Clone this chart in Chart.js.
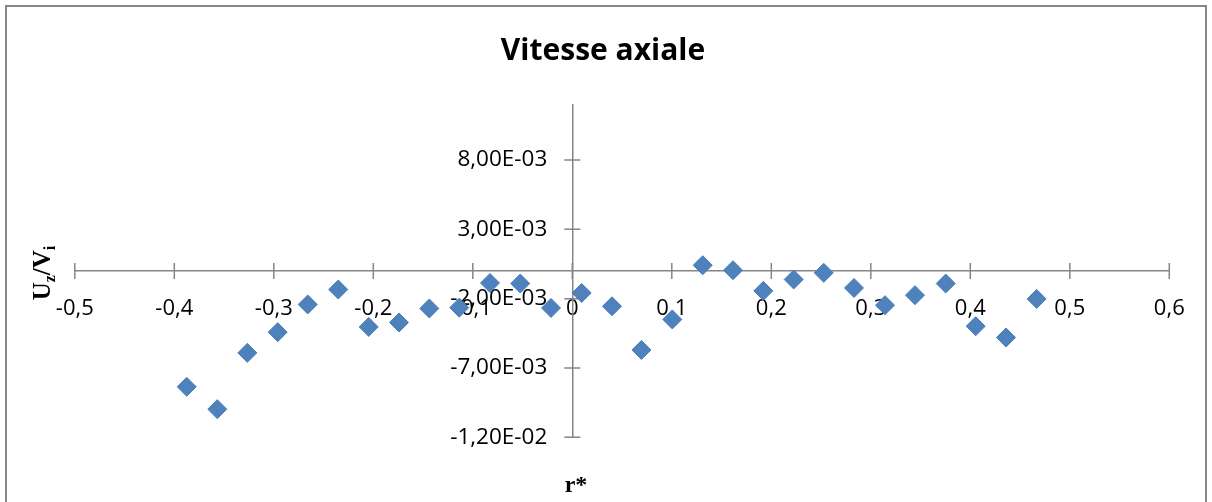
<!DOCTYPE html>
<html>
<head>
<meta charset="utf-8">
<script src="https://cdn.jsdelivr.net/npm/chart.js@4.4.1/dist/chart.umd.min.js"></script>
<style>
  html, body { margin: 0; padding: 0; background: #ffffff; }
  #wrap { width: 1212px; height: 502px; position: relative; }
</style>
</head>
<body>
<div id="wrap"><canvas id="c" width="1212" height="502"></canvas></div>
<script>
// ---- Data ----
const rValues = [-0.3875, -0.3568, -0.3266, -0.2961, -0.2659, -0.2352, -0.2046, -0.1742, -0.1437, -0.1136,
                 -0.0827, -0.0523, -0.0214, 0.0094, 0.0399, 0.0695, 0.1005, 0.1311, 0.1615, 0.1920,
                 0.2225, 0.2527, 0.2831, 0.3143, 0.3444, 0.3753, 0.4054, 0.4359, 0.4667];
const uzValues = [-0.00836, -0.00997, -0.00591, -0.00442, -0.00242, -0.00134, -0.00404, -0.00372, -0.00271, -0.00265,
                  -0.00087, -0.00091, -0.00267, -0.00159, -0.00255, -0.00570, -0.00350, 0.00041, 0.00005, -0.00144,
                  -0.00062, -0.00014, -0.00123, -0.00247, -0.00175, -0.00091, -0.00399, -0.00480, -0.00202];
const xTickValues = [-0.5, -0.4, -0.3, -0.2, -0.1, 0, 0.1, 0.2, 0.3, 0.4, 0.5, 0.6];
const xTickLabels = ['-0,5', '-0,4', '-0,3', '-0,2', '-0,1', '0', '0,1', '0,2', '0,3', '0,4', '0,5', '0,6'];
const yTickValues = [-0.012, -0.007, -0.002, 0.003, 0.008];
const yTickLabels = ['-1,20E-02', '-7,00E-03', '-2,00E-03', '3,00E-03', '8,00E-03'];
const chartTitle = 'Vitesse axiale';

const points = rValues.map((r, i) => ({ x: r, y: uzValues[i] }));
const axisColor = '#868686';

const decor = {
  id: 'decor',
  afterLayout(chart) {
    // put the y axis (line + labels) at x = 0, like the crossing axes of the reference
    const xs = chart.scales.x, ys = chart.scales.y;
    const px = xs.getPixelForValue(0);
    ys.left = 0; ys.right = px; ys.width = px;
    // centre the title over the whole picture
    if (chart.titleBlock) {
      chart.titleBlock.left = 0;
      chart.titleBlock.right = 1206;
      chart.titleBlock.width = 1206;
    }
  },
  beforeDraw(chart) {
    const ctx = chart.ctx;
    ctx.save();
    ctx.fillStyle = '#ffffff';
    ctx.fillRect(0, 0, chart.width, chart.height);
    ctx.strokeStyle = axisColor;
    ctx.lineWidth = 2;
    ctx.strokeRect(6, 6, 1200, 520);
    ctx.restore();
  },
  beforeDatasetsDraw(chart) {
    const ctx = chart.ctx;
    const xs = chart.scales.x, ys = chart.scales.y;
    const axisY = ys.getPixelForValue(0);
    const axisX = xs.getPixelForValue(0);
    ctx.save();
    ctx.strokeStyle = axisColor;
    ctx.lineWidth = 1.5;
    ctx.beginPath();
    xs.ticks.forEach(t => {
      const px = xs.getPixelForValue(t.value);
      ctx.moveTo(px, axisY - 8);
      ctx.lineTo(px, axisY + 8);
    });
    ys.ticks.forEach(t => {
      const py = ys.getPixelForValue(t.value);
      ctx.moveTo(axisX - 8, py);
      ctx.lineTo(axisX + 8, py);
    });
    ctx.stroke();
    ctx.restore();
  },
  afterDraw(chart) {
    const ctx = chart.ctx;
    ctx.save();
    ctx.fillStyle = '#000000';
    // x axis title
    ctx.font = 'bold 24px "Liberation Serif"';
    ctx.textAlign = 'center';
    ctx.textBaseline = 'alphabetic';
    ctx.fillText('r*', 576, 492);
    // y axis title U_z/V_i rotated
    const big = 'bold 25px "Liberation Serif"';
    const small = 'bold 16px "Liberation Serif"';
    const parts = [['U', big, 0], ['z', small, 5], ['/V', big, 0], ['i', small, 5]];
    let total = 0;
    parts.forEach(p => { ctx.font = p[1]; total += ctx.measureText(p[0]).width; });
    ctx.translate(50, 273);
    ctx.rotate(-Math.PI / 2);
    ctx.textAlign = 'left';
    let cx = -total / 2;
    parts.forEach(p => {
      ctx.font = p[1];
      ctx.fillText(p[0], cx, p[2]);
      cx += ctx.measureText(p[0]).width;
    });
    ctx.restore();
  }
};

new Chart(document.getElementById('c'), {
  type: 'scatter',
  data: {
    datasets: [{
      label: 'Uz/Vi',
      data: points,
      pointStyle: 'rectRot',
      pointRadius: 9.5,
      pointHoverRadius: 9.5,
      backgroundColor: '#4F81BD',
      borderColor: '#4A7EBB',
      borderWidth: 1
    }]
  },
  options: {
    responsive: false,
    animation: false,
    devicePixelRatio: 1,
    layout: { padding: { top: 10, left: 74.8, right: 42.7, bottom: 64.7 } },
    plugins: {
      legend: { display: false },
      tooltip: { enabled: false },
      title: {
        display: true,
        text: chartTitle,
        color: '#000000',
        font: { family: '"Open Sans"', size: 30, weight: 'bold' },
        padding: { top: 23.5, bottom: 35 }
      }
    },
    scales: {
      x: {
        type: 'linear',
        min: -0.5,
        max: 0.6,
        position: { y: 0 },
        afterBuildTicks: s => { s.ticks = xTickValues.map(v => ({ value: v })); },
        afterFit: s => { s.height = 0; },
        grid: { display: true, drawOnChartArea: false, drawTicks: false },
        border: { display: true, color: axisColor, width: 1.5 },
        ticks: {
          autoSkip: false,
          maxRotation: 0,
          padding: 25,
          color: '#000000',
          font: { family: '"Open Sans"', size: 22 },
          callback: (v) => { const i = xTickValues.findIndex(t => Math.abs(t - v) < 1e-9); return i >= 0 ? xTickLabels[i] : ''; }
        }
      },
      y: {
        type: 'linear',
        min: -0.012,
        max: 0.012,
        position: 'left',
        afterBuildTicks: s => { s.ticks = yTickValues.map(v => ({ value: v })); },
        afterFit: s => { s.width = 0; },
        grid: { display: true, drawOnChartArea: false, drawTicks: false },
        border: { display: true, color: axisColor, width: 1.5 },
        ticks: {
          autoSkip: false,
          padding: 25,
          color: '#000000',
          font: { family: '"Open Sans"', size: 22.5 },
          callback: (v) => { const i = yTickValues.findIndex(t => Math.abs(t - v) < 1e-12); return i >= 0 ? yTickLabels[i] : ''; }
        }
      }
    }
  },
  plugins: [decor]
});
</script>
</body>
</html>
